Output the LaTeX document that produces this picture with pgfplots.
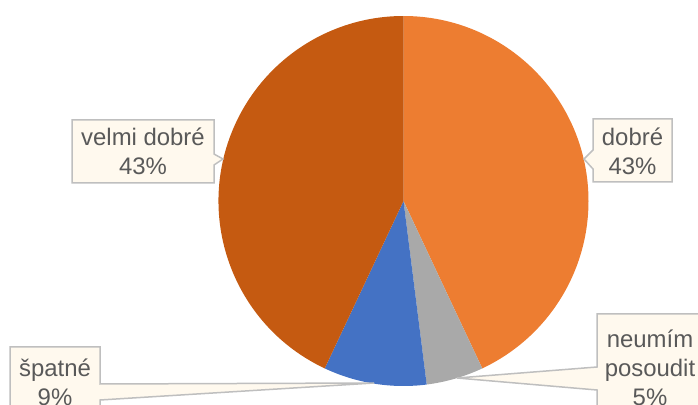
\documentclass[border=0pt]{standalone}
\usepackage{pgfplots}
\usepackage{pgfplotstable}
\pgfplotsset{compat=1.18}
\usepackage{fontspec}
\setmainfont{Liberation Sans}
\definecolor{cDobre}{HTML}{ED7D31}
\definecolor{cNeumim}{HTML}{A9A9A9}
\definecolor{cSpatne}{HTML}{4472C4}
\definecolor{cVelmi}{HTML}{C55A11}
\definecolor{boxfill}{HTML}{FFF9EE}
\definecolor{boxline}{HTML}{BFBFBF}
\definecolor{txt}{HTML}{595959}
\pgfplotstableread{
name value
dobre 43
neumim 5
spatne 9
velmi 43
}\piedata
\begin{document}
\begin{tikzpicture}
\pgfplotstablegetelem{0}{value}\of\piedata \let\vA\pgfplotsretval
\pgfplotstablegetelem{1}{value}\of\piedata \let\vB\pgfplotsretval
\pgfplotstablegetelem{2}{value}\of\piedata \let\vC\pgfplotsretval
\pgfplotstablegetelem{3}{value}\of\piedata \let\vD\pgfplotsretval
\pgfmathsetmacro\vT{\vA+\vB+\vC+\vD}
\pgfmathsetmacro\aA{90-360*\vA/\vT}
\pgfmathsetmacro\aB{\aA-360*\vB/\vT}
\pgfmathsetmacro\aC{\aB-360*\vC/\vT}
\pgfmathsetmacro\aD{\aC-360*\vD/\vT}
\begin{axis}[x=1bp,y=1bp,xmin=0,xmax=698,ymin=0,ymax=405,hide axis,clip=false,
  anchor=origin, at={(0,0)}]
% pie slices
\fill[cDobre] (axis cs:403.5,204) -- ++(90:185bp) arc[start angle=90,end angle=\aA,radius=185bp] -- cycle;
\fill[cNeumim] (axis cs:403.5,204) -- ++(\aA:185bp) arc[start angle=\aA,end angle=\aB,radius=185bp] -- cycle;
\fill[cSpatne] (axis cs:403.5,204) -- ++(\aB:185bp) arc[start angle=\aB,end angle=\aC,radius=185bp] -- cycle;
\fill[cVelmi] (axis cs:403.5,204) -- ++(\aC:185bp) arc[start angle=\aC,end angle=\aD,radius=185bp] -- cycle;
% callouts
\tikzset{callout/.style={fill=boxfill,draw=boxline,line width=1.5bp,line join=miter},
  lbl/.style={text=txt,align=center,font=\fontsize{24}{29}\selectfont,inner sep=0pt}}
\draw[callout] (axis cs:72,285) -- (axis cs:214,285) -- (axis cs:214,251) -- (axis cs:223,246) -- (axis cs:214,240) -- (axis cs:214,222) -- (axis cs:72,222) -- cycle;
\node[lbl] at (axis cs:143,253.5) {velmi dobré\\43\%};
\draw[callout] (axis cs:593,286) -- (axis cs:672,286) -- (axis cs:672,223) -- (axis cs:593,223) -- (axis cs:593,236) -- (axis cs:584,246) -- (axis cs:593,255) -- cycle;
\node[lbl] at (axis cs:632.5,254) {dobré\\43\%};
\draw[callout] (axis cs:10,58) -- (axis cs:100,58) -- (axis cs:100,21) -- (axis cs:374,22) -- (axis cs:100,5) -- (axis cs:100,-20) -- (axis cs:10,-20) -- cycle;
\node[lbl] at (axis cs:55,23) {špatné\\9\%};
\draw[callout] (axis cs:597,91) -- (axis cs:720,91) -- (axis cs:720,-20) -- (axis cs:597,-20) -- (axis cs:597,15) -- (axis cs:457,27) -- (axis cs:597,38) -- cycle;
\node[lbl] at (axis cs:650,37) {neumím\\posoudit\\5\%};
\end{axis}
\pgfresetboundingbox
\useasboundingbox (0,0) rectangle (698bp,405bp);
\end{tikzpicture}
\end{document}
